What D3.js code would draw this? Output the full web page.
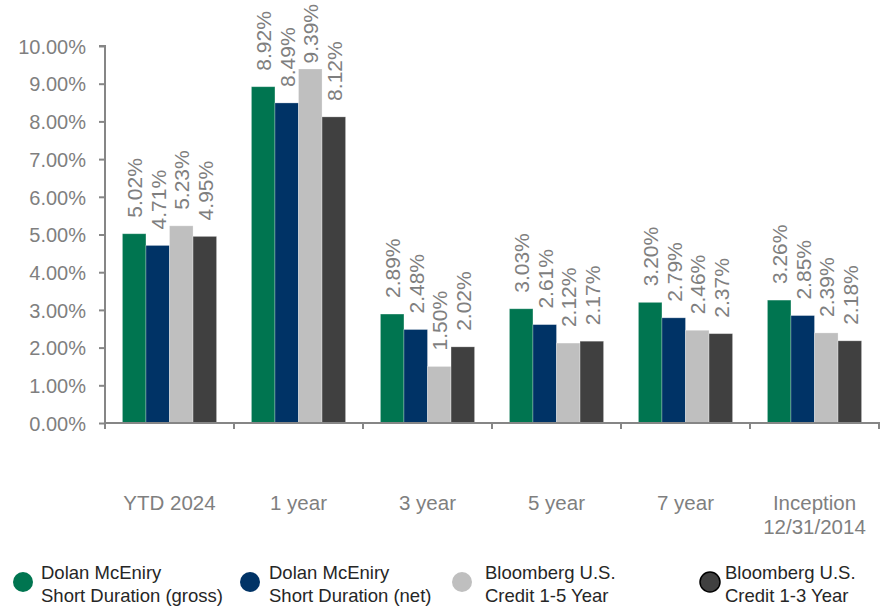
<!DOCTYPE html>
<html>
<head>
<meta charset="utf-8">
<script src="https://cdn.jsdelivr.net/npm/d3@7"></script>
<style>
  body { margin: 0; background: #fff; }
  svg text { font-family: "Liberation Sans", Arial, sans-serif; }
</style>
</head>
<body>
<svg id="chart"></svg>
<script>
const categories = ["YTD 2024", "1 year", "3 year", "5 year", "7 year", "Inception\n12/31/2014"];
const seriesNames = [
  "Dolan McEniry\nShort Duration (gross)",
  "Dolan McEniry\nShort Duration (net)",
  "Bloomberg U.S.\nCredit 1-5 Year",
  "Bloomberg U.S.\nCredit 1-3 Year"
];
const gross = [5.02, 8.92, 2.89, 3.03, 3.20, 3.26];
const net = [4.71, 8.49, 2.48, 2.61, 2.79, 2.85];
const credit15 = [5.23, 9.39, 1.50, 2.12, 2.46, 2.39];
const credit13 = [4.95, 8.12, 2.02, 2.17, 2.37, 2.18];
const yTicks = [0, 1, 2, 3, 4, 5, 6, 7, 8, 9, 10];
const colors = ["#007550", "#003366", "#bfbfbf", "#404040"];

const series = [gross, net, credit15, credit13];
const width = 880, height = 608;

const svg = d3.select("#chart").attr("width", width).attr("height", height);

let x0 = d3.scaleBand().domain(categories).range([105, 879]).paddingInner(0.27).paddingOuter(0.135);
let x1 = d3.scaleBand().domain(d3.range(series.length)).range([0, x0.bandwidth()]);
let y = d3.scaleLinear().domain([0, 10]).range([423, 46]);

// y axis
let yAxis = svg.append("g").attr("transform", "translate(105,0)")
  .call(d3.axisLeft(y).tickValues(yTicks).tickSize(6).tickPadding(13).tickFormat(d => d.toFixed(2) + "%"));
yAxis.attr("font-family", null).attr("font-size", null);
yAxis.select(".domain").attr("stroke", "#868686").attr("stroke-width", 2).attr("d", "M-6," + y(10) + "H0V" + y(0));
yAxis.selectAll(".tick line").attr("stroke", "#868686").attr("stroke-width", 2);
yAxis.selectAll(".tick text").attr("fill", "#7f7f7f").style("font-size", "20px").attr("dy", "0.36em");

// bars
let groups = svg.append("g").selectAll("g").data(categories).join("g")
  .attr("transform", d => "translate(" + x0(d) + ",0)");

groups.each(function(cat, ci) {
  let g = d3.select(this);
  series.forEach((s, si) => {
    g.append("rect")
      .attr("x", x1(si))
      .attr("y", y(s[ci]))
      .attr("width", x1.bandwidth())
      .attr("height", y(0) - y(s[ci]))
      .attr("fill", colors[si])
      .attr("stroke", "#ffffff").attr("stroke-opacity", 0.35).attr("stroke-width", 0.8);
    let lbl = g.append("text")
      .attr("fill", "#7f7f7f")
      .style("font-size", "21px")
      .text(s[ci].toFixed(2) + "%");
    let len = lbl.node().getComputedTextLength();
    let base = Math.max(y(s[ci]) - 16, 4 + len);
    lbl.attr("transform", "translate(" + (x1(si) + x1.bandwidth() / 2 + 8) + "," + base + ") rotate(-90)");
  });
});

// x axis
let xAxis = svg.append("g").attr("transform", "translate(0," + y(0) + ")");
xAxis.append("line").attr("x1", 105).attr("x2", 880).attr("stroke", "#868686").attr("stroke-width", 2);
xAxis.selectAll("line.tick").data(d3.range(categories.length + 1)).join("line")
  .attr("class", "tick")
  .attr("x1", i => 105 + i * x0.step()).attr("x2", i => 105 + i * x0.step())
  .attr("y1", 0).attr("y2", 6)
  .attr("stroke", "#868686").attr("stroke-width", 2);

svg.append("g").selectAll("text").data(categories).join("text")
  .attr("y", 510)
  .attr("text-anchor", "middle")
  .attr("fill", "#7f7f7f")
  .style("font-size", "20.5px")
  .each(function(d) {
    d.split("\n").forEach((line, i) => {
      d3.select(this).append("tspan")
        .attr("x", x0(d) + x0.bandwidth() / 2)
        .attr("dy", i === 0 ? 0 : 23.5)
        .text(line);
    });
  });

// legend
const legendX = [23, 250, 462, 710];
const legendTextX = [41, 269, 485, 725];
let legend = svg.append("g").selectAll("g").data(seriesNames).join("g");
legend.append("circle")
  .attr("cx", (d, i) => legendX[i])
  .attr("cy", 582)
  .attr("r", 10)
  .attr("fill", (d, i) => colors[i])
  .attr("stroke", (d, i) => i === 3 ? "#000" : "none")
  .attr("stroke-width", 1.5);
legend.append("text")
  .attr("y", 579)
  .attr("fill", "#262626")
  .style("font-size", "18.5px")
  .each(function(d, i) {
    let t = d3.select(this);
    d.split("\n").forEach((line, k) => {
      t.append("tspan")
        .attr("x", legendTextX[i])
        .attr("dy", k === 0 ? 0 : 23)
        .text(line);
    });
  });
</script>
</body>
</html>
